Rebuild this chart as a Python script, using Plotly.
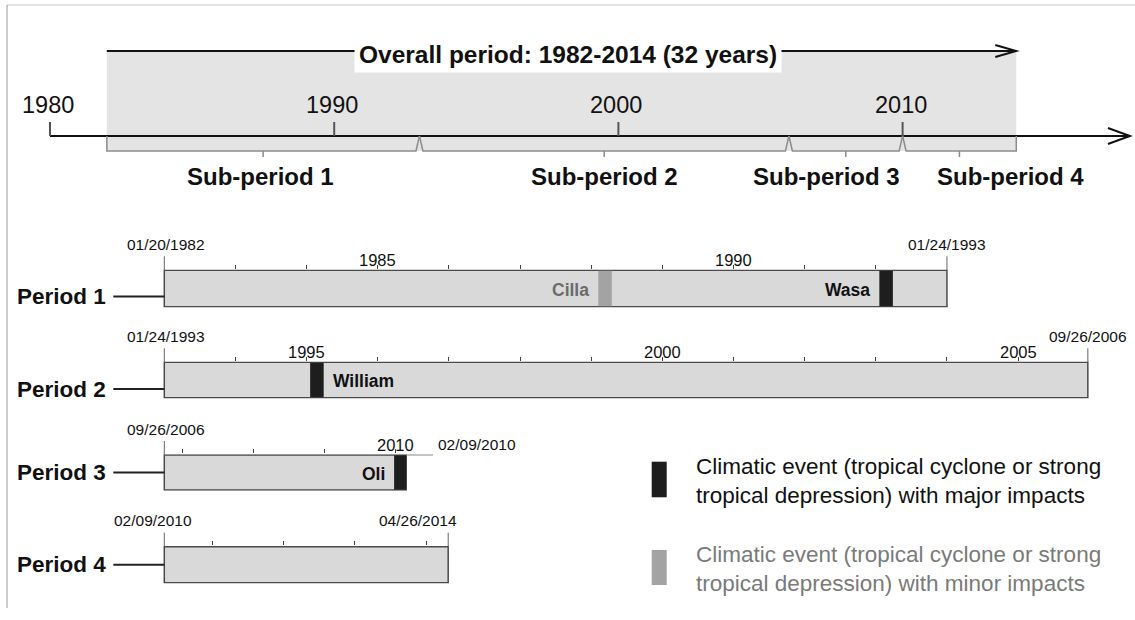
import plotly.graph_objects as go

# ---------------- data ----------------
top_tick_years = [1980, 1990, 2000, 2010]
overall_start, overall_end = 1982, 2014
overall_label = "Overall period: 1982-2014 (32 years)"
subperiod_names = ["Sub-period 1", "Sub-period 2", "Sub-period 3", "Sub-period 4"]
subperiod_bounds = [1982, 1993, 2006, 2010, 2014]

period_names = ["Period 1", "Period 2", "Period 3", "Period 4"]
period_start = [1982.0, 1993.0, 2006.75, 2010.32]
period_end = [1993.0, 2005.98, 2010.15, 2014.31]
period_start_labels = ["01/20/1982", "01/24/1993", "09/26/2006", "02/09/2010"]
period_end_labels = ["01/24/1993", "09/26/2006", "02/09/2010", "04/26/2014"]
period_year_labels = [[1985, 1990], [1995, 2000, 2005], [2010], []]

event_names = ["Cilla", "Wasa", "William", "Oli"]
event_period = [0, 0, 1, 2]
event_start = [1988.10, 1992.05, 1995.05, 2009.98]
event_length = [0.19, 0.19, 0.19, 0.17]
event_major = [False, True, True, True]

legend_major_lines = ["Climatic event (tropical cyclone or strong",
                      "tropical depression) with major impacts"]
legend_minor_lines = ["Climatic event (tropical cyclone or strong",
                      "tropical depression) with minor impacts"]

# ---------------- layout / style ----------------
W, H = 1135, 620
FONT = "Liberation Sans Narrow, Arial Narrow, Liberation Sans, Arial, sans-serif"
TOP_PPY = 28.42          # pixels per year on the overall axis
TOP_ORIGIN = 50.0        # pixel of the first tick year
TOP_AXIS_END_YEAR = 2018.0
PER_PPY = 71.15          # pixels per year on the period bars
BAR_LEFT = 164.3
rows = [(270.3, 306.7), (362.3, 397.7), (455.0, 490.0), (546.7, 582.7)]
label_dy = [8, 9, 0, 0]
start_label_dx = [2, 2, 2, -11]
end_label_mode = ["above", "above", "side", "above"]
end_label_dx = [0, 0, 0, -30]
event_label_side = ["left", "left", "right", "left"]
sub_label_dx = [-3, 0, -19, 51]

MAJOR_C, MINOR_C = "#1e1e1e", "#a3a3a3"


def py(px):
    return 1 - px / H


def ann(text, xref, x, y_px, size, color="#111", bold=False, xanchor="center", xshift=0, **kw):
    d = dict(text=("<b>" + text + "</b>") if bold else text, xref=xref, yref="paper", x=x,
             y=py(y_px), xanchor=xanchor, yanchor="middle", xshift=xshift, showarrow=False,
             font=dict(size=size, color=color, family=FONT))
    d.update(kw)
    return d


fig = go.Figure()
shapes, annots = [], []

# ---- overall axis ----
x0 = top_tick_years[0] - TOP_ORIGIN / TOP_PPY
fig.add_trace(go.Scatter(x=[], y=[], xaxis="x", yaxis="y", showlegend=False))

shapes.append(dict(type="rect", xref="x", yref="paper", x0=overall_start, x1=overall_end,
                   y0=py(151), y1=py(51), fillcolor="#e4e4e4", line=dict(width=0), layer="below"))
# title arrow
shapes.append(dict(type="line", xref="x", yref="paper", x0=overall_start, x1=overall_end,
                   y0=py(51), y1=py(51), line=dict(color="#111", width=2)))
shapes.append(dict(type="path", xref="x", yref="paper", xsizemode="pixel", ysizemode="pixel",
                   xanchor=overall_end, yanchor=py(51), path="M-21,6 L0,0 L-21,-6",
                   line=dict(color="#111", width=2)))
annots.append(ann(overall_label, "x", (overall_start + overall_end) / 2, 54, 24.5, bold=True,
                  xshift=6, bgcolor="white", borderpad=4))
# main axis
shapes.append(dict(type="line", xref="x", yref="paper", x0=top_tick_years[0], x1=TOP_AXIS_END_YEAR,
                   y0=py(136), y1=py(136), line=dict(color="#111", width=2)))
shapes.append(dict(type="path", xref="x", yref="paper", xsizemode="pixel", ysizemode="pixel",
                   xanchor=TOP_AXIS_END_YEAR, yanchor=py(136), path="M-22,8 L0,0 L-22,-8",
                   line=dict(color="#111", width=2)))
for yr in top_tick_years:
    shapes.append(dict(type="line", xref="x", yref="paper", x0=yr, x1=yr, y0=py(136), y1=py(122),
                       line=dict(color="#555", width=2)))
    annots.append(ann(str(yr), "x", yr, 105, 23.5, xshift=-2))
# sub-period brackets
g = 3.5 / TOP_PPY
nsub = len(subperiod_names)
for i in range(nsub):
    a, b = subperiod_bounds[i], subperiod_bounds[i + 1]
    yt, yb = py(136), py(151)
    if i == 0:
        p = f"M{a},{yt} L{a},{yb}"
    else:
        p = f"M{a},{yt} L{a + g},{yb}"
    if i == nsub - 1:
        p += f" L{b},{yb} L{b},{yt}"
    else:
        p += f" L{b - g},{yb} L{b},{yt}"
    shapes.append(dict(type="path", xref="x", yref="paper", path=p,
                       line=dict(color="#8c8c8c", width=1.5)))
    m = (a + b) / 2
    shapes.append(dict(type="line", xref="x", yref="paper", x0=m, x1=m, y0=py(151), y1=py(157),
                       line=dict(color="#8c8c8c", width=1.5)))
    annots.append(ann(subperiod_names[i], "x", m, 177, 24, bold=True, xshift=sub_label_dx[i]))

layout_axes = {}
layout_axes["xaxis"] = dict(domain=[0, 1], range=[x0, x0 + W / TOP_PPY], visible=False, fixedrange=True)
layout_axes["yaxis"] = dict(domain=[0, 1], range=[0, 1], visible=False, fixedrange=True)

# ---- period bars ----
for k, name in enumerate(period_names):
    ax = k + 2
    xa, ya = f"x{ax}", f"y{ax}"
    s, e = period_start[k], period_end[k]
    top, bot = rows[k]
    h = bot - top
    cen = (top + bot) / 2
    layout_axes[f"xaxis{ax}"] = dict(
        domain=[0, 1], range=[s - BAR_LEFT / PER_PPY, s + (W - BAR_LEFT) / PER_PPY],
        anchor=ya, side="top", ticks="outside", ticklen=4, tickwidth=1, tickcolor="#444",
        tickvals=[y for y in range(int(s) + 1, int(e) + 1) if s < y < e],
        showticklabels=False, showgrid=False, zeroline=False, showline=False, fixedrange=True)
    layout_axes[f"yaxis{ax}"] = dict(
        domain=[py(bot + 0.02 * h), py(top - 0.02 * h)], range=[-0.52, 0.52], anchor=xa,
        type="category", visible=False, fixedrange=True)
    fig.add_trace(go.Bar(y=[name], x=[e - s], base=[s], orientation="h", width=1,
                         marker=dict(color="#d9d9d9", line=dict(color="#4a4a4a", width=1.5)),
                         xaxis=xa, yaxis=ya, showlegend=False, hoverinfo="skip"))
    # period label + leader
    annots.append(ann(name, xa, s - 56 / PER_PPY, cen + label_dy[k], 22.5, bold=True, xanchor="right"))
    shapes.append(dict(type="line", xref=xa, yref="paper", x0=s - 51 / PER_PPY, x1=s,
                       y0=py(cen + label_dy[k]), y1=py(cen + label_dy[k]),
                       line=dict(color="#222", width=2)))
    # start date
    shapes.append(dict(type="line", xref=xa, yref="paper", x0=s, x1=s, y0=py(top), y1=py(top - 14),
                       line=dict(color="#666", width=1)))
    annots.append(ann(period_start_labels[k], xa, s, top - 26, 15.5, xshift=start_label_dx[k]))
    # end date
    if end_label_mode[k] == "above":
        shapes.append(dict(type="line", xref=xa, yref="paper", x0=e, x1=e, y0=py(top), y1=py(top - 14),
                           line=dict(color="#666", width=1)))
        annots.append(ann(period_end_labels[k], xa, e, top - 26, 15.5, xshift=end_label_dx[k]))
    else:
        shapes.append(dict(type="line", xref=xa, yref="paper", x0=e, x1=e + 27 / PER_PPY,
                           y0=py(top), y1=py(top), line=dict(color="#888", width=1)))
        annots.append(ann(period_end_labels[k], xa, e + 30 / PER_PPY, top - 11, 15.5, xanchor="left"))
    # year labels
    for yr in period_year_labels[k]:
        annots.append(ann(str(yr), xa, yr, top - 10, 16.5))

# ---- events ----
for j, ev in enumerate(event_names):
    k = event_period[j]
    ax = k + 2
    xa, ya = f"x{ax}", f"y{ax}"
    top, bot = rows[k]
    cen = (top + bot) / 2
    col = MAJOR_C if event_major[j] else MINOR_C
    fig.add_trace(go.Bar(y=[period_names[k]], x=[event_length[j]], base=[event_start[j]],
                         orientation="h", width=0.98, marker=dict(color=col, line=dict(width=0)),
                         xaxis=xa, yaxis=ya, showlegend=False, hoverinfo="skip"))
    tcol = "#111" if event_major[j] else "#6b6b6b"
    if event_label_side[j] == "left":
        annots.append(ann(ev, xa, event_start[j], cen + 1, 17.5, color=tcol, bold=True,
                          xanchor="right", xshift=-7))
    else:
        annots.append(ann(ev, xa, event_start[j] + event_length[j], cen + 1, 17.5, color=tcol,
                          bold=True, xanchor="left", xshift=7))

# ---- legend ----
for (y_top, y_bot, col, tcol, lines, ys) in [
        (461.7, 497.3, MAJOR_C, "#111", legend_major_lines, [466, 495]),
        (550.0, 585.0, MINOR_C, "#7a7a7a", legend_minor_lines, [554, 583])]:
    shapes.append(dict(type="rect", xref="paper", yref="paper", x0=651.7 / W, x1=666.7 / W,
                       y0=py(y_bot), y1=py(y_top), fillcolor=col, line=dict(width=0)))
    for ln, yy in zip(lines, ys):
        annots.append(ann(ln, "paper", 694 / W, yy, 22.5, color=tcol, xanchor="left"))

# ---- frame ----
shapes.append(dict(type="line", xref="paper", yref="paper", x0=7 / W, x1=1, y0=py(5), y1=py(5),
                   line=dict(color="#c4c4c4", width=1)))
shapes.append(dict(type="line", xref="paper", yref="paper", x0=7 / W, x1=7 / W, y0=py(5), y1=py(608),
                   line=dict(color="#9a9a9a", width=1)))

fig.update_layout(width=W, height=H, margin=dict(l=0, r=0, t=0, b=0),
                  paper_bgcolor="white", plot_bgcolor="rgba(0,0,0,0)",
                  barmode="overlay", showlegend=False, shapes=shapes, annotations=annots,
                  font=dict(family=FONT), **layout_axes)
fig.write_html("out.html", config={"displayModeBar": False},
               post_script="document.body.style.margin='0';")
